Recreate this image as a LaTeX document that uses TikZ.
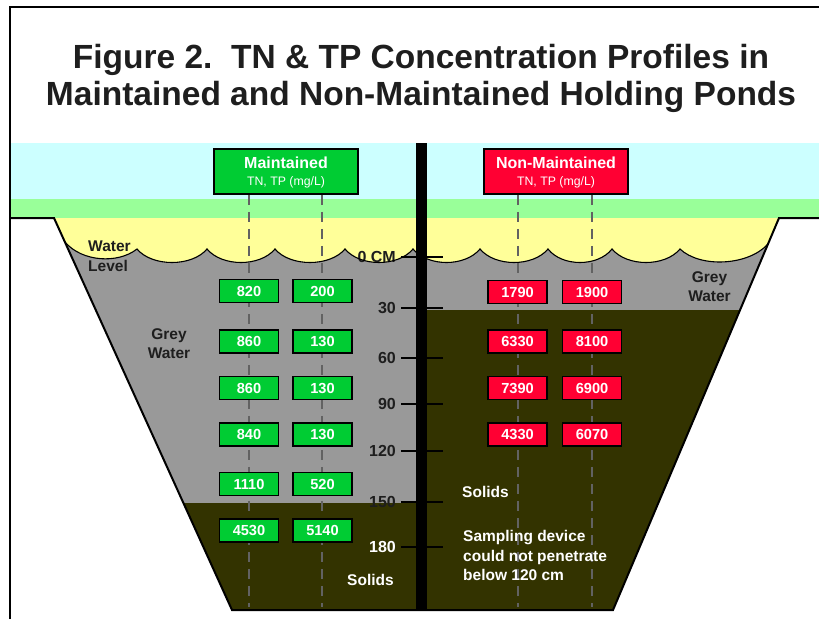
\documentclass[tikz,border=0pt]{standalone}
\usepackage{fontspec}
\setmainfont{Liberation Sans}
\definecolor{sky}{HTML}{CCFFFF}
\definecolor{grass}{HTML}{99FF99}
\definecolor{pondyellow}{HTML}{FFFF99}
\definecolor{greyw}{HTML}{999999}
\definecolor{solidcol}{HTML}{333300}
\definecolor{mgreen}{HTML}{00CC33}
\definecolor{mred}{HTML}{FF0033}
\definecolor{txtdark}{HTML}{1E1E1E}
\definecolor{dashgrey}{HTML}{626262}
\begin{document}
\begin{tikzpicture}[x=1pt,y=-1pt,
  valbox/.style={draw=black,line width=1.5pt,minimum width=59pt,minimum height=23pt,inner sep=0pt,text=white,font=\fontsize{14.6}{14.6}\selectfont\bfseries},
  gbox/.style={valbox,fill=mgreen},
  rbox/.style={valbox,fill=mred},
  headbox/.style={draw=black,line width=1.5pt,minimum width=144pt,minimum height=45pt,inner sep=0pt},
  headtitle/.style={text=white,font=\fontsize{16}{16}\selectfont\bfseries,inner sep=0pt},
  headsub/.style={text=white,font=\fontsize{12.3}{12.3}\selectfont,inner sep=0pt},
  lbl/.style={text=txtdark,font=\fontsize{15.5}{19.5}\selectfont\bfseries,inner sep=0pt},
  wlbl/.style={lbl,text=white},
  ticklbl/.style={lbl,anchor=east,font=\fontsize{16}{16}\selectfont\bfseries},
  titlefont/.style={text=txtdark,font=\fontsize{33.5}{37}\selectfont\bfseries,inner sep=0pt,anchor=base},
  dashline/.style={draw=dashgrey,line width=2pt,dash pattern=on 10pt off 7pt},
  tickline/.style={draw=black,line width=2.5pt},
  outline/.style={draw=black,line width=2pt,line join=miter},
]
\useasboundingbox (0,0) rectangle (819,619);
\fill[white] (0,0) rectangle (819,619);
% sky and grass bands
\fill[sky] (10,143) rectangle (819,199);
\fill[grass] (10,199) rectangle (819,218);
% pond interior
\def\wavepath{(65,242) .. controls (82,262) and (118,264) .. (137,249)
 .. controls (152,267) and (192,267) .. (207,249)
 .. controls (222,267) and (260,267) .. (275,249)
 .. controls (290,267) and (330,267) .. (345,249)
 .. controls (360,267) and (398,267) .. (413,249)
 .. controls (428,267) and (465,267) .. (480,249)
 .. controls (495,267) and (533,267) .. (548,249)
 .. controls (562,267) and (598,267) .. (612,249)
 .. controls (627,267) and (665,267) .. (680,249)
 .. controls (700,268) and (748,266) .. (768,244)}
\begin{scope}
  \clip (54,218) -- (232,610) -- (613,610) -- (779,218) -- cycle;
  \fill[pondyellow] (0,218) rectangle (819,619);
  \fill[greyw] \wavepath -- (830,244) -- (830,625) -- (0,625) -- (0,242) -- cycle;
  \fill[solidcol] (0,503) rectangle (421,625);
  \fill[solidcol] (421,310) rectangle (830,625);
\end{scope}
% frame and ground outline
\draw[line width=1.5pt] (10,619) -- (10,7) -- (819,7);
\draw[outline] (10,218) -- (54,218) -- (232,610) -- (613,610) -- (779,218) -- (819,218);

% header boxes
\node[headbox,fill=mgreen] (mbox) at (286,171.5) {};
\node[headtitle] (mtitle) at (286,163) {Maintained};
\node[headsub] (msub) at (286,182) {TN, TP (mg/L)};
\node[headbox,fill=mred] (nbox) at (556,171.5) {};
\node[headtitle] (ntitle) at (556,163) {Non-Maintained};
\node[headsub] (nsub) at (556,182) {TN, TP (mg/L)};

% dashed profile lines
\coordinate (m1end) at (248.5,607);
\coordinate (m2end) at (322,607);
\coordinate (n1end) at (518,607);
\coordinate (n2end) at (592,607);
\draw[dashline] (mbox.south -| m1end) -- (m1end);
\draw[dashline] (mbox.south -| m2end) -- (m2end);
\draw[dashline] (nbox.south -| n1end) -- (n1end);
\draw[dashline] (nbox.south -| n2end) -- (n2end);

% labels in pond
\node[lbl,align=left,anchor=west] (wlevel) at (88,256) {Water\\Level};
\node[lbl,align=center] (lgrey) at (169,343.5) {Grey\\Water};
\node[lbl,align=center] (rgrey) at (709.5,286.5) {Grey\\Water};
\node[wlbl,anchor=west] (rsolids) at (462,492) {Solids};
\node[wlbl,align=left,anchor=west] (rnote) at (463,555.5) {Sampling device\\could not penetrate\\below 120 cm};
\node[wlbl,anchor=west] (lsolids) at (347,580) {Solids};

% depth scale
\node[ticklbl] (t0) at (396,257) {0 CM};
\node[ticklbl] (t30) at (396,308) {30};
\node[ticklbl] (t60) at (396,358) {60};
\node[ticklbl] (t90) at (396,404) {90};
\node[ticklbl] (t120) at (396,451) {120};
\node[ticklbl] (t150) at (396,502) {150};
\node[ticklbl,text=white] (t180) at (396,547) {180};

% water level line
\draw[black,line width=1.1pt] \wavepath;

% pole and ticks
\fill[black] (416,143) rectangle (427,610);
\foreach \ty in {257,308,358,404,451,502,547}{
  \draw[tickline] (401,\ty) -- (443,\ty);
}

% value boxes, maintained
\node[gbox] (ma1) at (249,291) {820};
\node[gbox] (mb1) at (322.5,291) {200};
\node[gbox] (ma2) at (249,341.5) {860};
\node[gbox] (mb2) at (322.5,341.5) {130};
\node[gbox] (ma3) at (249,388) {860};
\node[gbox] (mb3) at (322.5,388) {130};
\node[gbox] (ma4) at (249,434.5) {840};
\node[gbox] (mb4) at (322.5,434.5) {130};
\node[gbox] (ma5) at (249,484) {1110};
\node[gbox] (mb5) at (322.5,484) {520};
\node[gbox] (ma6) at (249,530.5) {4530};
\node[gbox] (mb6) at (322.5,530.5) {5140};
% value boxes, non-maintained
\node[rbox] (na1) at (517.5,292) {1790};
\node[rbox] (nb1) at (592,292) {1900};
\node[rbox] (na2) at (517.5,341.5) {6330};
\node[rbox] (nb2) at (592,341.5) {8100};
\node[rbox] (na3) at (517.5,388) {7390};
\node[rbox] (nb3) at (592,388) {6900};
\node[rbox] (na4) at (517.5,434.5) {4330};
\node[rbox] (nb4) at (592,434.5) {6070};

% title
\node[titlefont] (title1) at (421,68) {Figure 2.\ \ TN \& TP Concentration Profiles in};
\node[titlefont] (title2) at (421,105) {Maintained and Non-Maintained Holding Ponds};
\end{tikzpicture}
\end{document}
